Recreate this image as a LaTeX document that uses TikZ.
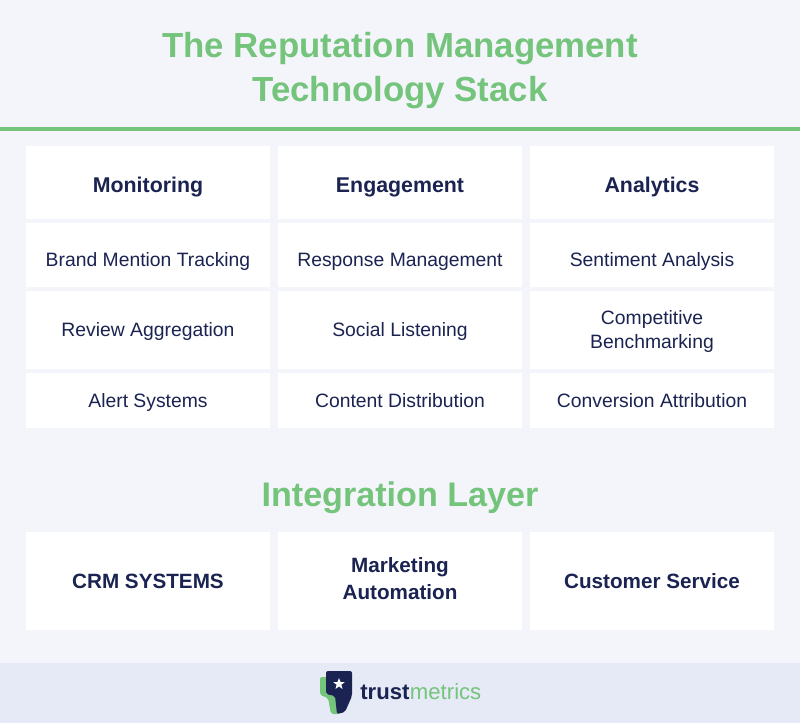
\documentclass[tikz,border=0pt]{standalone}
\usepackage{fontspec}
\usetikzlibrary{shapes.geometric}
\setmainfont{Liberation Sans}
\definecolor{pagebg}{HTML}{F3F5FB}
\definecolor{footbg}{HTML}{E6EAF6}
\definecolor{leaf}{HTML}{75C47C}
\definecolor{navy}{HTML}{1A2351}
\tikzset{
  title/.style={text=leaf,font=\bfseries\fontsize{26.1}{33}\selectfont,align=center,inner sep=0},
  cell/.style={fill=white,text=navy,align=center,inner sep=0,minimum width=183pt,text depth=0pt,text height=#1,font=\fontsize{14.5}{18}\selectfont},
  headcell/.style={cell=#1,font=\bfseries\fontsize{16}{20}\selectfont},
  basecell/.style={cell=#1,font=\bfseries\fontsize{15.5}{20}\selectfont},
}
\begin{document}
\begin{tikzpicture}[x=0.75pt,y=-0.75pt]
\useasboundingbox (0,0) rectangle (800,723);
\fill[pagebg] (0,0) rectangle (800,723);
\fill[footbg] (0,663) rectangle (800,723);
\fill[leaf] (0,127) rectangle (800,131);

\node[title](maintitle) at (400,71) {The Reputation Management\\Technology Stack};

% first row
\node[headcell=15.75pt,minimum height=54.75pt](mon) at (148,182.5) {Monitoring};
\node[headcell=15.75pt,minimum height=54.75pt](eng) at (400,182.5) {Engagement};
\node[headcell=15.75pt,minimum height=54.75pt](ana) at (652,182.5) {Analytics};

\node[cell=18pt,minimum height=48pt](mon1) at (148,255) {Brand Mention Tracking};
\node[cell=18pt,minimum height=48pt](eng1) at (400,255) {Response Management};
\node[cell=18pt,minimum height=48pt](ana1) at (652,255) {Sentiment Analysis};

\node[cell=9.5pt,minimum height=58.5pt](mon2) at (148,330) {Review Aggregation};
\node[cell=9.5pt,minimum height=58.5pt](eng2) at (400,330) {Social Listening};
\node[cell=28.5pt,minimum height=58.5pt](ana2) at (652,330) {Competitive\\Benchmarking};

\node[cell=11.25pt,minimum height=41.25pt](mon3) at (148,400.5) {Alert Systems};
\node[cell=11.25pt,minimum height=41.25pt](eng3) at (400,400.5) {Content Distribution};
\node[cell=11.25pt,minimum height=41.25pt](ana3) at (652,400.5) {Conversion Attribution};

\node[title,font=\bfseries\fontsize{25.6}{33}\selectfont](layer) at (400,498) {Integration Layer};

\node[basecell=10.5pt,minimum height=73.5pt](crm) at (148,581) {CRM SYSTEMS};
\node[basecell=27.5pt,minimum height=73.5pt](auto) at (400,581) {Marketing\\Automation};
\node[basecell=10.5pt,minimum height=73.5pt](serv) at (652,581) {Customer Service};

% logo
\fill[leaf,rounded corners=1.5pt] (320,677) -- (330,677) -- (340,700) -- (340,714) -- (331,714)
  -- (328,698) -- (320,695) -- cycle;
\fill[navy,rounded corners=1.5pt] (326,671) -- (352,671) -- (352,696) -- (345,712)
  -- (337,714) -- (335,696) -- (326,694) -- cycle;
\node[star,star points=5,star point ratio=2.4,fill=white,inner sep=0,minimum size=9pt](logostar) at (339,684) {};
\node[anchor=base west,inner sep=0,text=navy,font=\bfseries\fontsize{16.6}{18}\selectfont](logoa) at (360,699) {trust};
\node[anchor=base west,inner sep=0,text=leaf,font=\fontsize{16.6}{18}\selectfont](logob) at (logoa.base east) {metrics};
\end{tikzpicture}
\end{document}
